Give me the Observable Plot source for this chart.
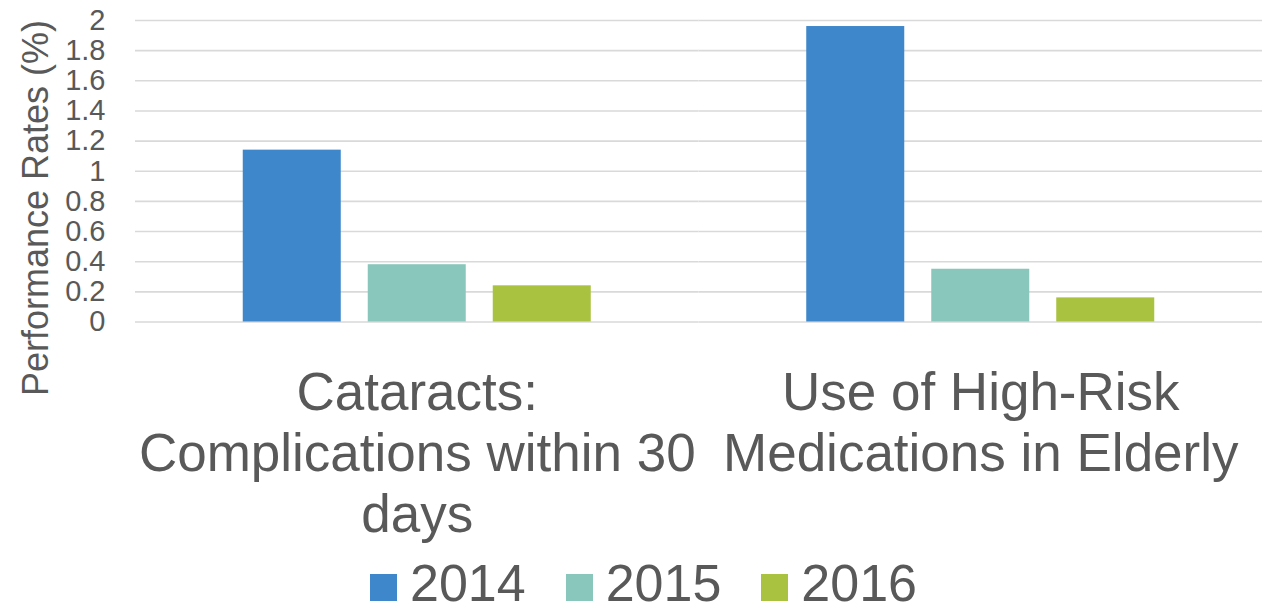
<!DOCTYPE html>
<html>
<head>
<meta charset="utf-8">
<script src="https://cdn.jsdelivr.net/npm/d3@7"></script>
<script src="https://cdn.jsdelivr.net/npm/@observablehq/plot@0.6"></script>
<style>
  html, body { margin: 0; padding: 0; background: #fff; }
  body { width: 1276px; height: 611px; overflow: hidden; font-family: "Liberation Sans", Arial, sans-serif; }
  #legend { display: flex; justify-content: center; align-items: center; height: 56px; padding-left: 11px; color: #595959; font-size: 52px; line-height: 1; }
  #legend .item { display: flex; align-items: center; margin: 0 20px; }
  #legend .item span { line-height: 1; display: block; }
  #legend .sw { width: 27px; height: 27px; margin-right: 13px; margin-top: 8px; }
</style>
</head>
<body>
<div id="chart"></div>
<div id="legend"></div>
<script>
const categories = ["Cataracts: Complications within 30 days", "Use of High-Risk Medications in Elderly"];
const categoryLabels = ["Cataracts:\nComplications within 30\ndays", "Use of High-Risk\nMedications in Elderly"];
const years = ["2014", "2015", "2016"];
const values2014 = [1.14, 1.96];
const values2015 = [0.38, 0.35];
const values2016 = [0.24, 0.16];
const colors = ["#3e87cb", "#89c7bc", "#a9c23f"];
const yTicks = [0, 0.2, 0.4, 0.6, 0.8, 1, 1.2, 1.4, 1.6, 1.8, 2];
const yTickLabels = ["0", "0.2", "0.4", "0.6", "0.8", "1", "1.2", "1.4", "1.6", "1.8", "2"];
const yTitle = "Performance Rates (%)";

const series = [values2014, values2015, values2016];
const data = [];
categories.forEach((c, i) => years.forEach((y, j) => data.push({category: c, year: y, value: series[j][i]})));

const textColor = "#595959";

const chart = Plot.plot({
  width: 1276,
  height: 555,
  marginLeft: 135,
  marginRight: 14,
  marginTop: 20,
  marginBottom: 233.5,
  style: {fontFamily: "'Liberation Sans', Arial, sans-serif", color: textColor, background: "#fff"},
  fx: {domain: categories, padding: 0, round: false, axis: null},
  x: {domain: years, paddingInner: 0.216, paddingOuter: 0.862, round: false, axis: null},
  y: {domain: [0, 2], axis: null},
  color: {domain: years, range: colors},
  marks: [
    Plot.gridY(yTicks, {stroke: "#d9d9d9", strokeOpacity: 1, strokeWidth: 1.6}),
    Plot.barY(data, {fx: "category", x: "year", y: "value", fill: "year"}),
    Plot.axisY({
      ticks: yTicks,
      tickFormat: d => yTickLabels[yTicks.indexOf(d)],
      tickSize: 0,
      tickPadding: 30,
      fontSize: 29,
      fill: textColor,
      label: null
    }),
    Plot.axisFx({
      anchor: "bottom",
      tickSize: 0,
      tickPadding: 45,
      fontSize: 53,
      lineHeight: 1.15,
      fill: textColor,
      label: null,
      tickFormat: d => categoryLabels[categories.indexOf(d)]
    })
  ]
});

d3.select(chart).append("text")
  .attr("transform", "translate(48,208) rotate(-90)")
  .attr("text-anchor", "middle")
  .attr("fill", textColor)
  .attr("font-size", 36)
  .text(yTitle);

document.getElementById("chart").appendChild(chart);

const legend = d3.select("#legend");
years.forEach((y, i) => {
  const item = legend.append("div").attr("class", "item");
  item.append("div").attr("class", "sw").style("background", colors[i]);
  item.append("span").text(y);
});
</script>
</body>
</html>
